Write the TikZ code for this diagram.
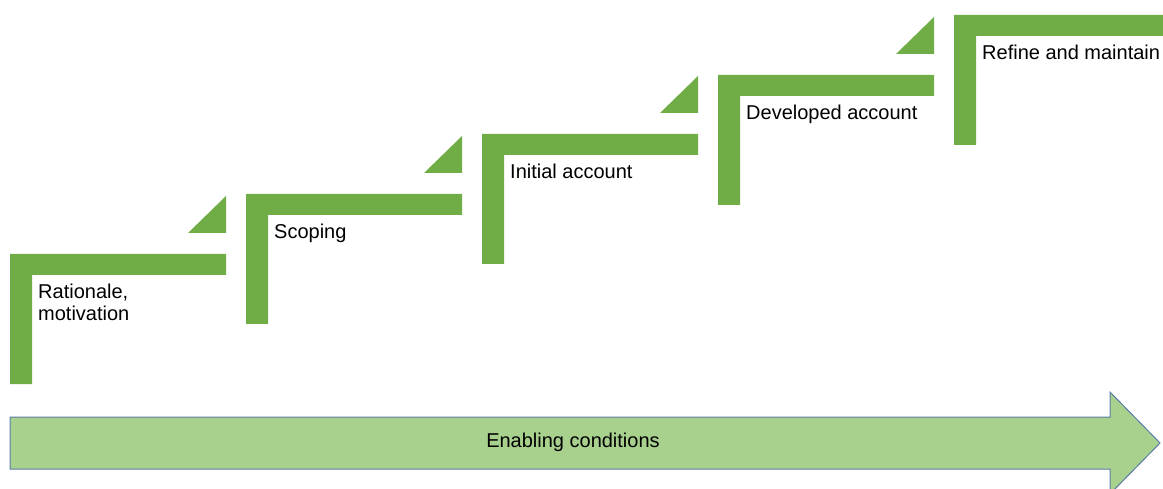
\documentclass[tikz,border=0pt]{standalone}
\usepackage{fontspec}
\setmainfont{Liberation Sans}
\definecolor{stepgreen}{HTML}{70AD47}
\definecolor{railgreen}{HTML}{A9D18E}
\definecolor{railline}{HTML}{5B7BA6}
\tikzset{
  steplabel/.style={anchor=north west, inner sep=0pt, align=left, font=\fontsize{20}{21.5}\selectfont},
}
\begin{document}
\begin{tikzpicture}[x=1pt,y=-1pt]
\useasboundingbox (0,0) rectangle (1163,489);
\clip (0,0) rectangle (1163,489);
% enabling conditions arrow
\draw[fill=railgreen, draw=railline, line width=1pt] (10,417) -- (1110,417) -- (1110,392) -- (1160,443) -- (1110,494) -- (1110,469) -- (10,469) -- cycle;
\node[font=\fontsize{20}{24}\selectfont] (enabling) at (573,442) {Enabling conditions};
% the five steps
\foreach \xx/\yy/\ww in {10/254/216, 246/194/216, 482/134/216, 718/75/216, 954/15/300} {
  \fill[stepgreen] (\xx,\yy) -- (\xx+\ww,\yy) -- (\xx+\ww,\yy+21) -- (\xx+22,\yy+21) -- (\xx+22,\yy+130) -- (\xx,\yy+130) -- cycle;
}
\foreach \xx/\yy in {226/254, 462/194, 698/134, 934/75} {
  \fill[stepgreen] (\xx-38,\yy-21) -- (\xx,\yy-21) -- (\xx,\yy-58) -- cycle;
}
\node[steplabel] (rationale) at (38,284) {Rationale,\\motivation};
\node[steplabel] (scoping) at (274,224) {Scoping};
\node[steplabel] (initial) at (510,164) {Initial account};
\node[steplabel] (developed) at (746,105) {Developed account};
\node[steplabel] (refine) at (982,45) {Refine and maintain};
\end{tikzpicture}
\end{document}
